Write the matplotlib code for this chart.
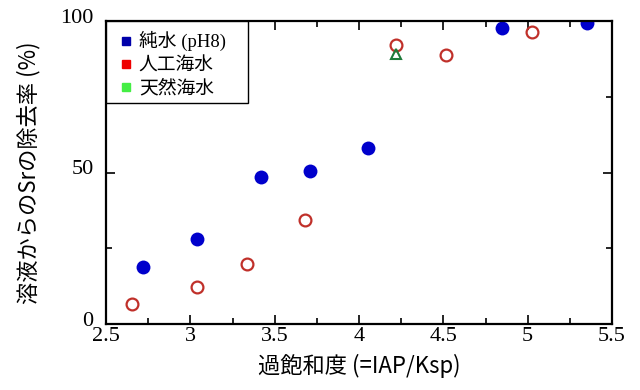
import matplotlib
matplotlib.use("Agg")
import matplotlib.pyplot as plt
import matplotlib.transforms as mtransforms
from matplotlib.lines import Line2D
from matplotlib.patches import Rectangle
from matplotlib.ticker import MultipleLocator

# 純水 (pH8)
pure_x = [2.72, 3.04, 3.42, 3.71, 4.055, 4.85, 5.35]
pure_y = [18.7, 27.9, 48.6, 50.5, 58.0, 97.7, 99.2]
# 人工海水
art_x = [2.654, 3.04, 3.334, 3.678, 4.219, 4.515, 5.023]
art_y = [6.6, 12.3, 19.7, 34.3, 92.0, 88.7, 96.5]
# 天然海水
nat_x = [4.219]
nat_y = [89.1]

labels = ["純水 (pH8)", "人工海水", "天然海水"]
legend_colors = ["#0000aa", "#ee0000", "#44ee44"]
xtick_vals = [2.5, 3, 3.5, 4, 4.5, 5, 5.5]
xtick_labels = ["2.5", "3", "3.5", "4", "4.5", "5", "5.5"]
ytick_vals = [0, 50, 100]

serif = ["Liberation Serif", "Noto Sans CJK JP"]
gothic = ["Noto Sans CJK JP", "DejaVu Sans"]

fig = plt.figure(figsize=(6.4, 3.9), dpi=100)
ax = fig.add_axes([106 / 640, 1 - 324 / 390, (612 - 106) / 640, (324 - 21) / 390])

ax.plot(pure_x, pure_y, "o", color="#0000cc", markersize=10, markeredgewidth=0)
ax.plot(art_x, art_y, "o", markerfacecolor="none", markeredgecolor="#c0302a",
        markersize=8.5, markeredgewidth=1.6)
ax.plot(nat_x, nat_y, "^", markerfacecolor="none", markeredgecolor="#1e7a3a",
        markersize=7, markeredgewidth=1.5)

ax.set_xlim(2.5, 5.5)
ax.set_ylim(0, 100)
ax.set_xticks(xtick_vals)
ax.set_xticklabels(xtick_labels)
ax.xaxis.set_minor_locator(MultipleLocator(0.25))
ax.set_yticks(ytick_vals)
ax.yaxis.set_minor_locator(MultipleLocator(25))
ax.tick_params(which="both", direction="in", top=True, right=True, width=1.2)
ax.tick_params(which="major", length=6.5)
ax.tick_params(which="minor", length=4)
ax.tick_params(axis="x", which="major", pad=2)
ax.tick_params(axis="y", which="major", pad=9)

up = mtransforms.ScaledTranslation(0, 5 / 100, fig.dpi_scale_trans)
for lab in ax.get_yticklabels():
    lab.set_fontfamily(serif)
    lab.set_fontsize(16)
    lab.set_transform(lab.get_transform() + up)
for lab in ax.get_xticklabels():
    lab.set_fontfamily(serif)
    lab.set_fontsize(16)
for sp in ax.spines.values():
    sp.set_linewidth(1.6)

ax.set_xlabel("過飽和度 (=IAP/Ksp)", fontsize=16, family=gothic, labelpad=6)
ax.set_ylabel("溶液からのSrの除去率 (%)", fontsize=16, family=gothic, labelpad=14)

# legend box (drawn separately so it can be wider than its text)
ax.add_patch(Rectangle((0, 1 - 82 / 303), 142 / 506, 82 / 303, transform=ax.transAxes,
                       facecolor="white", edgecolor="black", linewidth=1.0, zorder=4))
handles = [Line2D([], [], marker="s", linestyle="none", color=c, markersize=6)
           for c in legend_colors]
leg = ax.legend(handles, labels, loc="upper left", bbox_to_anchor=(0.0, 1.0),
                borderaxespad=0, frameon=False, handletextpad=0.2,
                handlelength=1.0, labelspacing=0.3, borderpad=0.55,
                prop={"family": serif, "size": 13.5})
leg.set_zorder(5)

fig.savefig("out.png", dpi=100)
